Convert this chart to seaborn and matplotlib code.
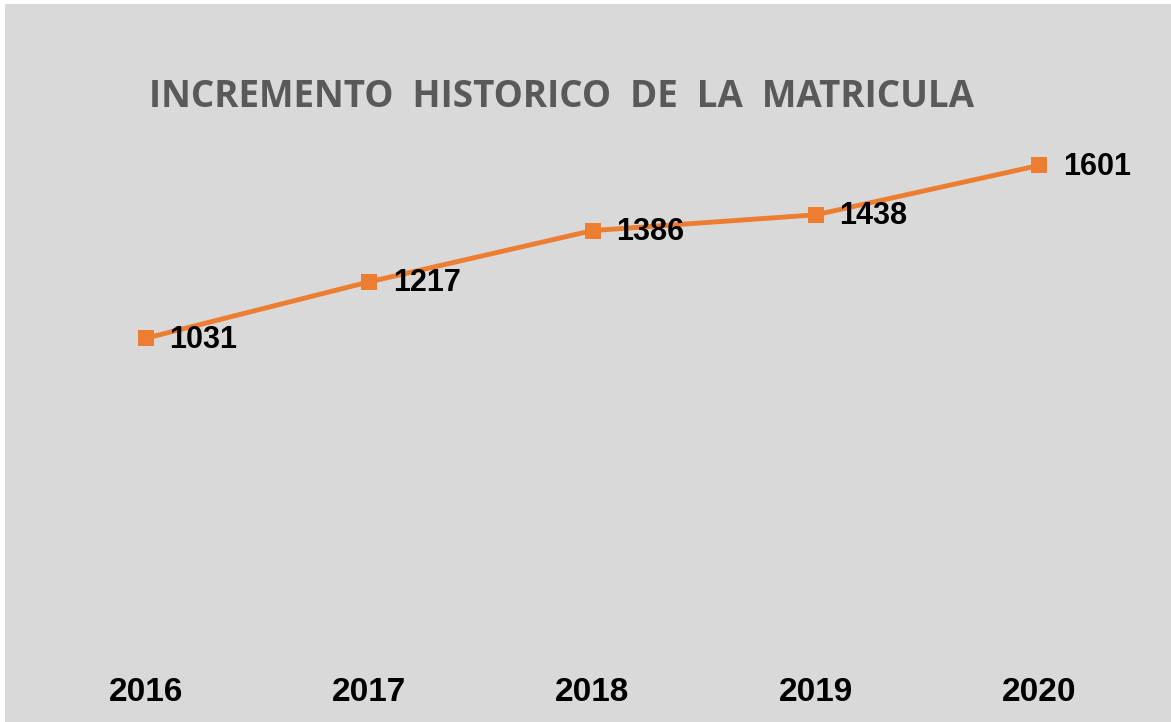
import matplotlib
matplotlib.use("Agg")
import matplotlib.pyplot as plt
import matplotlib.patches as mpatches
import pandas as pd
import seaborn as sns

# chart data
years = ["2016", "2017", "2018", "2019", "2020"]
enrolment = [1031, 1217, 1386, 1438, 1601]

df = pd.DataFrame({"year": years, "enrolment": enrolment})

sns.set_theme(style="white")
plt.rcParams['font.family'] = ['Liberation Sans', 'DejaVu Sans']

W, H = 1171, 722
fig = plt.figure(figsize=(W / 100, H / 100), dpi=100, facecolor="white")

# gray chart area with thin white margin at left/top
fig.patches.append(mpatches.Rectangle((5 / W, 0), 1 - 5 / W, 1 - 4 / H,
                                      transform=fig.transFigure,
                                      facecolor="#d9d9d9", edgecolor="none", zorder=-5))

ax = fig.add_axes([34 / W, 1 - 651 / H, (1151 - 34) / W, (651 - 105) / H])
ax.set_facecolor("none")
ax.set_zorder(2)

orange = "#ed7d31"
x = list(range(len(years)))
sns.lineplot(x=x, y=df["enrolment"], ax=ax, color=orange, linewidth=3.5,
             marker="s", markersize=12, markeredgewidth=0, markerfacecolor=orange)

for xi, v in zip(x, df["enrolment"]):
    ax.annotate(str(v), (xi, v), xytext=(17, -1), textcoords="offset points",
                ha="left", va="center", fontsize=22, fontweight="bold", color="black")

ax.set_xlim(-0.5, len(years) - 0.5)
ax.set_ylim(0, 1800)
ax.set_xticks(x)
ax.set_xticklabels(years, fontsize=24, fontweight="bold", color="black")
ax.tick_params(axis="x", length=0, pad=19)
ax.set_yticks([])
ax.set_xlabel("")
ax.set_ylabel("")
for s in ax.spines.values():
    s.set_visible(False)

fig.text(562 / W, 1 - 97 / H, "INCREMENTO  HISTORICO  DE  LA  MATRICULA",
         ha="center", va="center", fontsize=26.5, fontweight="bold", color="#595959",
         family=["Open Sans", "DejaVu Sans"])

fig.savefig("out.png", dpi=100, facecolor=fig.get_facecolor())
